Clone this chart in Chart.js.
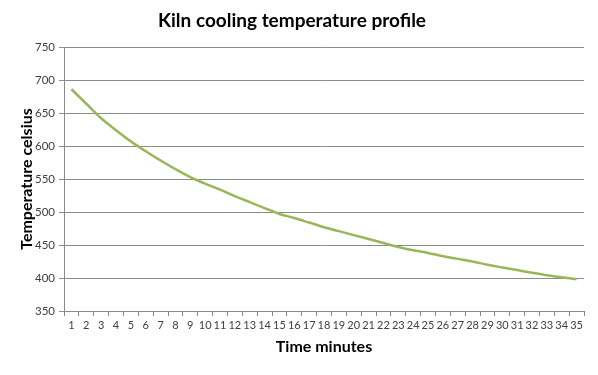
<!DOCTYPE html>
<html>
<head>
<meta charset="utf-8">
<script src="https://cdn.jsdelivr.net/npm/chart.js@4/dist/chart.umd.min.js"></script>
<style>
  html, body { margin: 0; padding: 0; background: #ffffff; }
  #wrap { width: 598px; height: 375px; position: relative; }
</style>
</head>
<body>
<div id="wrap"><canvas id="c" width="598" height="375"></canvas></div>
<script>
const chartTitle = "Kiln cooling temperature profile";
const xTitle = "Time minutes";
const yTitle = "Temperature celsius";
const minutes = [1,2,3,4,5,6,7,8,9,10,11,12,13,14,15,16,17,18,19,20,21,22,23,24,25,26,27,28,29,30,31,32,33,34,35];
const temperatures = [686,664,642,624,607,592,578,565,553,543,534,524,515,506,497,491,484,477,471,465,459,453,447,442,438,433,429,425,420,416,412,408,404,401,398];
const yMin = 350, yMax = 750, yStep = 50;

const gridColor = "#8a8a8a";
const textColor = "#404040";
const fontFamily = "Lato, 'Open Sans', sans-serif";

new Chart(document.getElementById("c"), {
  type: "line",
  data: {
    labels: minutes.map(String),
    datasets: [{
      label: "Temperature",
      data: temperatures,
      borderColor: "#9bb65a",
      borderWidth: 2.5,
      pointRadius: 0,
      tension: 0.3,
      fill: false
    }]
  },
  options: {
    responsive: false,
    animation: false,
    layout: { padding: { left: 0, right: 14, top: 0, bottom: 0 } },
    plugins: {
      legend: { display: false },
      tooltip: { enabled: false },
      title: {
        display: true,
        text: chartTitle,
        color: "#000000",
        font: { family: fontFamily, size: 19, weight: "bold", lineHeight: 1.2 },
        padding: { top: 9, bottom: 15.2 }
      }
    },
    scales: {
      x: {
        offset: true,
        afterFit: (s) => { s.height = 64; },
        grid: {
          offset: true,
          drawOnChartArea: false,
          drawTicks: true,
          tickLength: 5,
          color: gridColor
        },
        border: { display: true, color: gridColor, width: 1 },
        ticks: {
          autoSkip: false,
          maxRotation: 0,
          minRotation: 0,
          padding: 3,
          color: textColor,
          font: { family: fontFamily, size: 11 }
        },
        title: {
          display: true,
          text: xTitle,
          color: "#000000",
          font: { family: fontFamily, size: 16, weight: "bold", lineHeight: 1.2 },
          padding: { top: 0, bottom: 18.4 }
        }
      },
      y: {
        min: yMin,
        max: yMax,
        afterFit: (s) => { s.width = 64; },
        grid: {
          color: gridColor,
          drawTicks: true,
          tickLength: 5,
          lineWidth: 1
        },
        border: { display: true, color: gridColor, width: 1 },
        ticks: {
          stepSize: yStep,
          padding: 4,
          color: textColor,
          font: { family: fontFamily, size: 11.5 }
        },
        title: {
          display: true,
          text: yTitle,
          color: "#000000",
          font: { family: fontFamily, size: 16, weight: "bold", lineHeight: 1.2 },
          padding: { top: 17, bottom: 0 }
        }
      }
    }
  }
});
</script>
</body>
</html>
